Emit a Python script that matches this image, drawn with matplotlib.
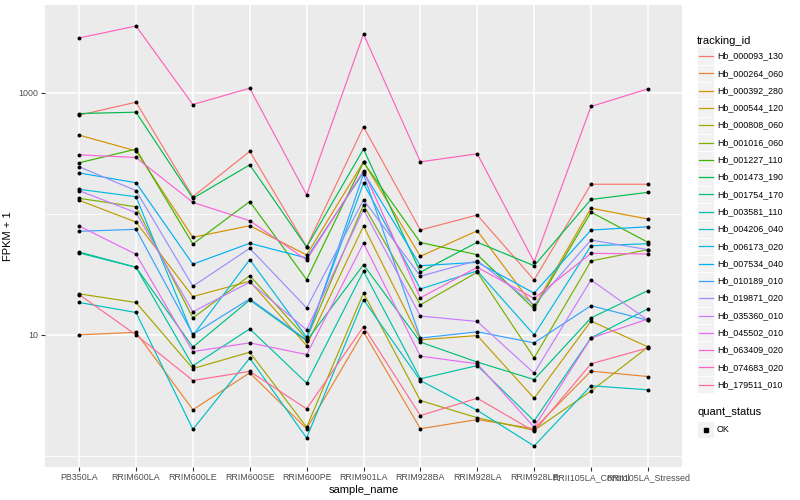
import numpy as np
import matplotlib.pyplot as plt
from matplotlib.patches import Rectangle
from matplotlib.lines import Line2D
from matplotlib.ticker import FixedLocator, NullFormatter

# samples on the x axis
samples = ['PB350LA', 'RRIM600LA', 'RRIM600LE', 'RRIM600SE', 'RRIM600PE',
           'RRIM901LA', 'RRIM928BA', 'RRIM928LA', 'RRIM928LE',
           'RRII105LA_Control', 'RRII105LA_Stressed']

tracking_ids = ['Hb_000093_130', 'Hb_000264_060', 'Hb_000392_280', 'Hb_000544_120',
                'Hb_000808_060', 'Hb_001016_060', 'Hb_001227_110', 'Hb_001473_190',
                'Hb_001754_170', 'Hb_003581_110', 'Hb_004206_040', 'Hb_006173_020',
                'Hb_007534_040', 'Hb_010189_010', 'Hb_019871_020', 'Hb_035360_010',
                'Hb_045502_010', 'Hb_063409_020', 'Hb_074683_020', 'Hb_179511_010']

# ggplot hue palette, 20 levels
colours = ['#F8766D', '#EA8331', '#D89000', '#C09B00', '#A3A500', '#7CAE00',
           '#39B600', '#00BB4E', '#00BF7D', '#00C1A3', '#00BFC4', '#00BAE0',
           '#00B0F6', '#35A2FF', '#9590FF', '#C77CFF', '#E76BF3', '#FA62DB',
           '#FF62BC', '#FF6C91']

# FPKM + 1, one row per tracking_id, one column per sample
fpkm_plus_1 = [
    [650, 832, 138, 327, 53.4, 521, 73.3, 97.5, 28.4, 175, 175],
    [10.0, 10.5, 2.41, 4.86, 1.68, 10.6, 1.68, 2.00, 1.68, 5.02, 4.53],
    [445, 330, 63.8, 79.6, 45.6, 268, 44.5, 72.3, 17.0, 111, 90.3],
    [129, 85.3, 20.7, 27.7, 8.16, 79.1, 9.1, 9.87, 3.0, 13.0, 7.96],
    [21.8, 18.5, 5.27, 7.19, 1.73, 22.1, 2.87, 2.07, 1.63, 3.44, 7.92],
    [134, 114, 13.8, 30.8, 9.27, 118, 17.7, 32.9, 6.46, 40.7, 50.5],
    [263, 341, 56.2, 126, 28.6, 265, 57.8, 45.9, 16.4, 103, 58.1],
    [671, 688, 134, 253, 53.1, 341, 32.9, 58.1, 37.2, 131, 150],
    [48.3, 36.1, 7.92, 19.4, 8.93, 37.9, 8.71, 5.96, 4.28, 13.8, 23.2],
    [47.4, 36.1, 5.55, 11.2, 4.0, 33.5, 4.34, 5.58, 1.95, 9.44, 16.4],
    [18.5, 15.3, 1.66, 6.43, 1.41, 19.5, 4.2, 2.38, 1.21, 3.8, 3.52],
    [159, 138, 9.87, 41.8, 9.57, 178, 23.9, 33.7, 10.0, 54.4, 56.5],
    [217, 180, 38.3, 57.0, 43.1, 219, 37.2, 39.7, 22.1, 73.3, 78.0],
    [71.6, 74.3, 10.1, 19.8, 9.1, 212, 9.4, 10.6, 8.59, 17.4, 13.2],
    [244, 155, 25.2, 51.8, 16.7, 130, 30.5, 41.0, 17.7, 60.6, 50.5],
    [155, 102, 15.5, 27.2, 11.0, 108, 14.3, 12.9, 4.83, 28.4, 13.2],
    [79.1, 46.2, 7.28, 8.59, 6.88, 57.0, 6.67, 5.77, 1.73, 9.4, 13.5],
    [306, 291, 124, 87.5, 41.5, 226, 20.2, 36.1, 20.0, 47.1, 46.5],
    [2818, 3540, 796, 1085, 143, 3040, 268, 312, 40.0, 767, 1072],
    [21.5, 10.0, 4.2, 5.0, 2.45, 11.7, 2.16, 3.0, 1.6, 5.77, 7.8],
]

quant_status = ['OK']

plt.rcParams['font.family'] = ['Liberation Sans', 'DejaVu Sans']

W, H = 800, 500
fig = plt.figure(figsize=(W / 100, H / 100), dpi=100)
ax = fig.add_axes([45 / W, 1 - 467 / H, 637 / W, 462 / H])
ax.set_facecolor('#EBEBEB')

x = np.arange(len(samples))
for vals, col in zip(fpkm_plus_1, colours):
    ax.plot(x, vals, color=col, lw=0.85, zorder=3, solid_capstyle='butt')
for vals in fpkm_plus_1:
    ax.scatter(x, vals, s=8, color='black', linewidths=0, zorder=4)

# log scale with ggplot-like 5% expansion
ax.set_yscale('log')
all_vals = np.array(fpkm_plus_1, dtype=float)
lo, hi = np.log10(all_vals.min()), np.log10(all_vals.max())
pad = 0.05 * (hi - lo)
ax.set_ylim(10 ** (lo - pad), 10 ** (hi + pad))
ax.set_xlim(-0.6, len(samples) - 0.4)

ax.set_yticks([10, 1000])
ax.set_yticklabels(['10', '1000'])
ax.yaxis.set_minor_locator(FixedLocator([1, 100]))
ax.yaxis.set_minor_formatter(NullFormatter())
ax.set_xticks(x)
ax.set_xticklabels(samples)
ax.xaxis.set_minor_locator(FixedLocator([]))

ax.grid(which='major', color='white', lw=1.1)
ax.grid(which='minor', axis='y', color='white', lw=0.55)
ax.set_axisbelow(True)
for s in ax.spines.values():
    s.set_visible(False)
ax.tick_params(which='major', length=3, width=0.8, color='#333333',
               labelcolor='#4D4D4D', labelsize=6.4, pad=1.5)
ax.tick_params(which='minor', length=0)

ax.set_xlabel('sample_name', fontsize=8, color='black', labelpad=2)
ax.set_ylabel('FPKM + 1', fontsize=8, color='black', labelpad=4)

# legend drawn in figure pixel coordinates
lax = fig.add_axes([0, 0, 1, 1], zorder=-1)
lax.set_xlim(0, W)
lax.set_ylim(H, 0)
lax.axis('off')

key_x, key_w, step = 697, 17, 17.3
lab_x = 717
lax.text(key_x, 40.5, 'tracking_id', fontsize=8, va='center', ha='left')
top = 56
for i, (name, col) in enumerate(zip(tracking_ids, colours)):
    yc = top + i * step
    lax.add_patch(Rectangle((key_x, yc - step / 2), key_w, step,
                            facecolor='#F2F2F2', edgecolor='white', lw=0.6))
    lax.add_line(Line2D([key_x + 1.5, key_x + key_w - 1.5], [yc, yc],
                        color=col, lw=0.9))
    lax.text(lab_x, yc, name, fontsize=6.4, va='center', ha='left')

qs_title_y = 412
lax.text(key_x, qs_title_y, 'quant_status', fontsize=8, va='center', ha='left')
for i, status in enumerate(quant_status):
    yc = qs_title_y + 17.5 + i * step
    lax.add_patch(Rectangle((key_x, yc - step / 2), key_w, step,
                            facecolor='#F2F2F2', edgecolor='white', lw=0.6))
    lax.plot([key_x + key_w / 2], [yc], 's', ms=2.2, color='black')
    lax.text(lab_x, yc, status, fontsize=6.4, va='center', ha='left')

fig.savefig('out.png', dpi=100)
